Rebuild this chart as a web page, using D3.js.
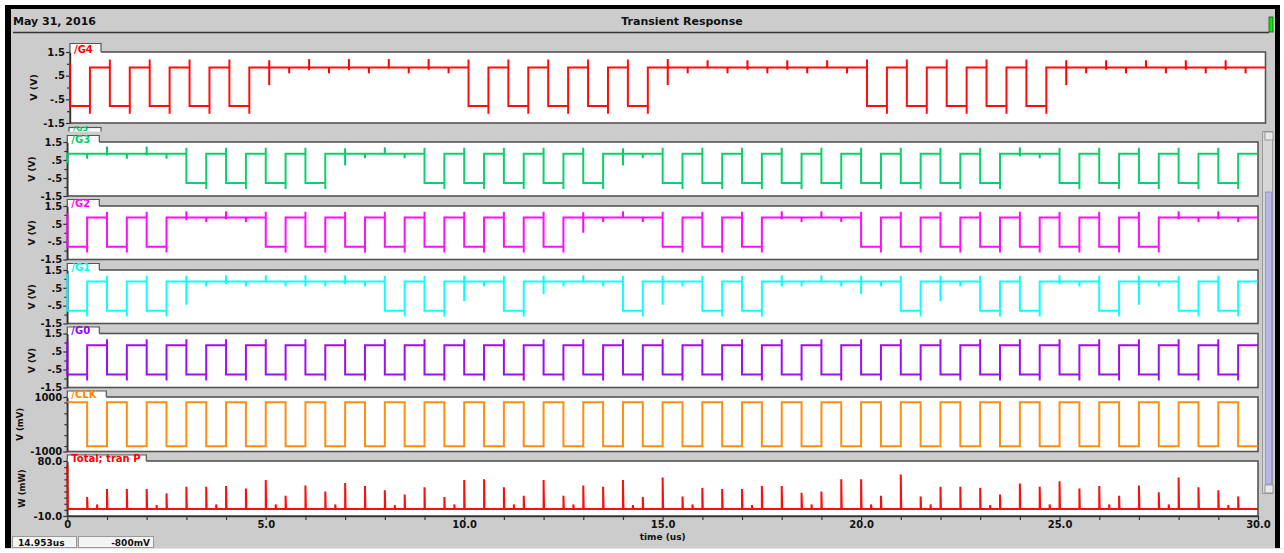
<!DOCTYPE html>
<html><head><meta charset="utf-8">
<script src="https://cdn.jsdelivr.net/npm/d3@7"></script>
<style>
html,body{margin:0;padding:0;background:#fff;}
svg{display:block;}
</style></head><body>
<svg id="c" width="1284" height="553"></svg>
<script>
// ---------------- data ----------------
const dateText = "May 31, 2016";
const titleText = "Transient Response";
const xTitle = "time (us)";
const cursorTime = "14.953us";
const cursorValue = "-800mV";

const timeMajorTicks = [0, 5, 10, 15, 20, 25, 30];
const timeMajorLabels = ["0", "5.0", "10.0", "15.0", "20.0", "25.0", "30.0"];
const timeMinorTicks = [1,2,3,4,6,7,8,9,11,12,13,14,16,17,18,19,21,22,23,24,26,27,28,29];

const vMajorTicks = [1.5, 0.5, -0.5, -1.5];
const vMajorLabels = ["1.5", ".5", "-.5", "-1.5"];
const vMinorTicks = [1.0, 0, -1.0];
const clkMajorTicks = [1000, -1000];
const clkMajorLabels = ["1000", "-1000"];
const clkMinorTicks = [800, 400, 0, -400, -800];
const pwrMajorTicks = [80, -10];
const pwrMajorLabels = ["80.0", "-10.0"];
const pwrMinorTicks = [70, 60, 50, 40, 30, 20, 10, 0];

const levelHigh = 0.85;   // V
const levelLow = -0.78;   // V
const edgeOvershoot = 0.33; // V beyond the level at each switching edge
const lowWidth = 0.5;     // us each low pulse lasts

// start times (us) of each low pulse
const g4Low = [0,1,2,3,4,10,11,12,13,14,20,21,22,23,24];
const g3Low = [3,4,5,6,9,10,11,12,13,15,16,17,18,19,20,21,22,23,25,26,27,28,29];
const g2Low = [0,1,2,5,6,7,8,9,10,11,12,15,16,17,20,21,22,23,24,25,26,27];
const g1Low = [0,1,2,8,9,11,14,16,17,21,23,24,26,28,29];
const g0Low = [0,1,2,3,4,5,6,7,8,9,10,11,12,13,14,15,16,17,18,19,20,21,22,23,24,25,26,27,28,29];
const initialV = {g4: 1.0, g3: 0.3, g2: 1.1, g1: 1.3, g0: 1.1};

// glitches on flat high stretches: [time us, top offset V, bottom offset V]
const g4Glitch = [[5.0,0.3,-0.75],[5.5,0,-0.25],[6.0,0.35,-0.12],[6.5,0,-0.25],[7.0,0.35,-0.12],[7.5,0,-0.25],[8.0,0.35,-0.05],[8.5,0,-0.25],[9.0,0.35,-0.1],[9.5,0,-0.25],
  [15.0,0.35,-0.75],[15.5,0,-0.25],[16.0,0.3,0],[16.5,0,-0.25],[17.0,0.3,-0.1],[17.5,0,-0.25],[18.0,0.3,-0.1],[18.5,0,-0.25],[19.0,0.3,0],[19.5,0,-0.25],
  [25.0,0.3,-0.75],[25.5,0,-0.25],[26.0,0.3,-0.1],[26.5,0,-0.25],[27.0,0.3,0],[27.5,0,-0.25],[28.0,0.3,-0.1],[28.5,0,-0.25],[29.0,0.3,-0.1],[29.5,0,-0.25]];
const g3Glitch = [[0.5,0,-0.28],[1.0,0.4,-0.1],[1.5,0,-0.28],[2.0,0.4,-0.1],[2.5,0,-0.28],
  [7.0,0.3,-0.65],[7.5,0,-0.25],[8.0,0.35,0],[8.5,0,-0.25],
  [14.0,0.3,-0.65],[14.5,0,-0.25],[24.0,0.35,-0.15],[24.5,0,-0.25]];
const g2Glitch = [[3.0,0.35,-0.15],[3.5,0,-0.25],[4.0,0.35,-0.1],[4.5,0,-0.25],
  [13.0,0.3,-0.85],[13.5,0,-0.25],[14.0,0.35,0],[14.5,0,-0.25],
  [18.0,0.35,-0.1],[18.5,0,-0.25],[19.0,0.35,0],[19.5,0,-0.25],
  [28.0,0.35,-0.1],[28.5,0,-0.25],[29.0,0.35,-0.1],[29.5,0,-0.25]];
const g1Glitch = [[3.0,0.33,-1.3],[3.5,0,-0.27],[4.0,0.35,-0.15],[4.5,0,-0.27],[5.0,0.35,0],[5.5,0,-0.27],[6.0,0.35,-0.27],[6.5,0,-0.27],[7.0,0.35,-0.15],[7.5,0,-0.27],
  [10.0,0.33,-1.1],[10.5,0,-0.27],[12.0,0.33,-0.7],[12.5,0,-0.27],[13.0,0.35,0],[13.5,0,-0.27],
  [15.0,0.33,-1.3],[15.5,0,-0.27],[18.0,0.35,-0.27],[18.5,0,-0.27],[19.0,0.35,0],[19.5,0,-0.27],[20.0,0.33,-0.7],[20.5,0,-0.27],
  [22.0,0.33,-1.1],[22.5,0,-0.27],[25.0,0.35,-0.15],[25.5,0,-0.27],[27.0,0.33,-1.3],[27.5,0,-0.27]];
const g0Glitch = [];

// clock: high pulse start times (us), levels in mV
const clkHighStarts = [0,1,2,3,4,5,6,7,8,9,10,11,12,13,14,15,16,17,18,19,20,21,22,23,24,25,26,27,28,29];
const clkHighWidth = 0.5;
const clkHigh = 810, clkLow = -810;

// total power spikes
const pwrBase = 1.5; // mW
const pwrT = [0,0.5,0.75,1.0,1.5,2.0,2.25,2.5,3.0,3.5,3.75,4.0,4.5,5.0,5.25,5.5,6.0,6.5,6.75,7.0,7.5,8.0,8.25,8.5,9.0,9.5,9.75,10.0,10.5,11.0,11.25,11.5,12.0,12.5,12.75,13.0,13.5,14.0,14.25,14.5,15.0,15.5,15.75,16.0,16.5,17.0,17.25,17.5,18.0,18.5,18.75,19.0,19.5,20.0,20.25,20.5,21.0,21.5,21.75,22.0,22.5,23.0,23.25,23.5,24.0,24.5,24.75,25.0,25.5,26.0,26.25,26.5,27.0,27.5,27.75,28.0,28.5,29.0,29.25,29.5];
const pwrP = [73,21,9,34,34,34,8,27,38,38,9,39,35,49,9,23,40,30,9,44,39,32,8,25,37,21,9,49,50,37,9,23,49,23,9,40,38,49,8,21,53,22,9,36,34,34,8,39,39,28,9,30,50,50,9,23,58,22,9,38,38,36,8,25,43,38,9,47,35,39,9,23,40,29,9,53,37,32,8,22];

// ---------------- drawing ----------------
const FONT = "'DejaVu Sans', sans-serif";
const svg = d3.select("#c");
svg.append("rect").attr("width",1284).attr("height",553).attr("fill","#fff");
svg.append("rect").attr("x",5).attr("y",5).attr("width",1275).attr("height",543).attr("fill","#000");
svg.append("rect").attr("x",11).attr("y",9).attr("width",1264).attr("height",539).attr("fill","#cccccc");
svg.append("line").attr("x1",5).attr("x2",1284).attr("y1",548.5).attr("y2",548.5).attr("stroke","#e4e4e4");

// header
svg.append("text").attr("x",13).attr("y",24.5).text(dateText)
  .attr("font-family",FONT).attr("font-weight","bold").attr("font-size",11).attr("fill","#111");
svg.append("text").attr("x",682).attr("y",24.5).attr("text-anchor","middle").text(titleText)
  .attr("font-family",FONT).attr("font-weight","bold").attr("font-size",11).attr("fill","#111");
svg.append("line").attr("x1",13).attr("x2",1269).attr("y1",32.5).attr("y2",32.5).attr("stroke","#333").attr("stroke-width",1.3);
svg.append("rect").attr("x",1269).attr("y",17).attr("width",4).attr("height",15).attr("fill","#00ee00").attr("stroke","#225522").attr("stroke-width",0.8);

// scrollbar of the lower region
svg.append("rect").attr("x",1262.5).attr("y",131.5).attr("width",10).attr("height",362).attr("fill","#d6d6d6").attr("stroke","#9a9a9a");
svg.append("rect").attr("x",1265.5).attr("y",192).attr("width",6).attr("height",292).attr("fill","#b6b6e8").attr("stroke","#9090c0").attr("stroke-width",0.8);
svg.append("rect").attr("x",1265).attr("y",132).attr("width",8).attr("height",8).attr("fill","#e8e8e8").attr("stroke","#888").attr("stroke-width",0.8);
svg.append("rect").attr("x",1265).attr("y",485).attr("width",8).attr("height",8).attr("fill","#e8e8e8").attr("stroke","#888").attr("stroke-width",0.8);

const xTop = d3.scaleLinear().domain([0,30]).range([70,1265.5]);
const xLow = d3.scaleLinear().domain([0,30]).range([67.3,1258]);

function styleAxis(g){
  g.select(".domain").attr("stroke","#333").attr("stroke-width",1.4);
  g.selectAll(".tick line").attr("stroke","#333").attr("stroke-width",1.2);
  g.selectAll(".tick text").attr("font-family",FONT).attr("font-weight","bold").attr("font-size",10).attr("fill","#111");
}

function drawPanel(p){
  const g = svg.append("g");
  const y = d3.scaleLinear().domain(p.domain).range([p.bot,p.top]);
  const x = p.x;
  const x0 = x.range()[0], x1 = x.range()[1];
  g.append("rect").attr("x",x0).attr("y",p.top).attr("width",x1-x0).attr("height",p.bot-p.top)
    .attr("fill","#fff").attr("stroke","#555").attr("stroke-width",1.6);
  g.append("rect").attr("x",x0).attr("y",p.top-p.tabH).attr("width",p.tabW).attr("height",p.tabH+1.5).attr("fill","#fff");
  g.append("path").attr("d",`M${x0},${p.top} V${p.top-p.tabH} H${x0+p.tabW} V${p.top}`)
    .attr("fill","none").attr("stroke","#555").attr("stroke-width",1.2);
  const lbl = new Map(p.majors.map((d,i)=>[d,p.majorLabels[i]]));
  const ga = g.append("g").attr("transform",`translate(${x0},0)`)
    .call(d3.axisLeft(y).tickValues(p.majors).tickFormat(d=>lbl.get(d)).tickSize(4).tickPadding(1).tickSizeOuter(0));
  styleAxis(ga);
  const gm = g.append("g").attr("transform",`translate(${x0},0)`)
    .call(d3.axisLeft(y).tickValues(p.minors).tickFormat("").tickSize(3).tickSizeOuter(0));
  styleAxis(gm); gm.select(".domain").remove();
  g.append("text").attr("transform",`translate(${p.titleX},${(p.top+p.bot)/2}) rotate(-90)`)
    .attr("text-anchor","middle").text(p.yTitle)
    .attr("font-family",FONT).attr("font-weight","bold").attr("font-size",p.titleSize).attr("fill","#111");
  const line = d3.line().x(d=>x(d[0])).y(d=>y(d[1]));
  g.append("path").attr("d",line(p.points)).attr("fill","none").attr("stroke",p.color)
    .attr("stroke-width",2).attr("stroke-linejoin","miter").attr("stroke-opacity",0.95);
  if (p.glitch){
    g.selectAll(null).data(p.glitch).enter().append("line")
      .attr("x1",d=>x(d[0])).attr("x2",d=>x(d[0]))
      .attr("y1",d=>y(levelHigh+d[1])).attr("y2",d=>y(levelHigh+d[2]))
      .attr("stroke",p.color).attr("stroke-width",2);
  }
  g.append("text").attr("x",x0+4).attr("y",p.top+0.8).text(p.name)
    .attr("font-family",FONT).attr("font-weight","bold").attr("font-size",10).attr("fill",p.color);
  return {g,y};
}

function digitalPoints(lows, init){
  const edges = [];
  lows.forEach(s=>{ if (s>0) edges.push([s,"f"]); if (s+lowWidth<30) edges.push([s+lowWidth,"r"]); });
  edges.sort((a,b)=>a[0]-b[0]);
  const startLow = lows.includes(0);
  let level = startLow ? levelLow : levelHigh;
  const pts = [[0,init],[0,level]];
  edges.forEach(([t,k])=>{
    if (k==="f"){ pts.push([t,levelHigh],[t,levelHigh+edgeOvershoot],[t,levelLow]); level=levelLow; }
    else { pts.push([t,levelLow],[t,levelLow-edgeOvershoot],[t,levelHigh]); level=levelHigh; }
  });
  pts.push([30,level]);
  return pts;
}

function clkPoints(){
  const pts = [[0,clkHigh]];
  clkHighStarts.forEach(s=>{
    if (s>0) pts.push([s,clkLow],[s,clkHigh]);
    pts.push([s+clkHighWidth,clkHigh],[s+clkHighWidth,clkLow]);
  });
  pts.push([30,clkLow]);
  return pts;
}

function pwrPoints(){
  const pts = [];
  pwrT.forEach((t,i)=>{
    if (i>0) pts.push([t,pwrBase]);
    pts.push([t,pwrP[i]],[t+0.012,pwrBase]);
  });
  pts.push([30,pwrBase]);
  return pts;
}

// ghost tab of the scrolled region (clipped at the viewport top)
const defs = svg.append("defs");
defs.append("clipPath").attr("id","ghost").append("rect").attr("x",60).attr("y",126).attr("width",60).attr("height",5.5);
const gg = svg.append("g").attr("clip-path","url(#ghost)");
gg.append("rect").attr("x",69).attr("y",127.5).attr("width",32).attr("height",10).attr("fill","#fff").attr("stroke","#555").attr("stroke-width",1.2);
gg.append("text").attr("x",73).attr("y",131).text("/G3").attr("font-family",FONT).attr("font-weight","bold").attr("font-size",8).attr("fill","#00cc66");

const common = {domain:[-1.5,1.5], majors:vMajorTicks, majorLabels:vMajorLabels, minors:vMinorTicks, yTitle:"V (V)"};
drawPanel(Object.assign({}, common, {name:"/G4", color:"#ff0000", x:xTop, top:52, bot:123, tabW:31, tabH:8.5, titleX:37, titleSize:9.5,
  points:digitalPoints(g4Low, initialV.g4), glitch:g4Glitch}));
const lowTops = [142, 206, 270, 333.5];
const lowBots = [196, 259.5, 323.5, 387.5];
const lowDefs = [["/G3","#00cc66",g3Low,initialV.g3,g3Glitch],["/G2","#ff00ff",g2Low,initialV.g2,g2Glitch],
                 ["/G1","#00ffff",g1Low,initialV.g1,g1Glitch],["/G0","#9a00f0",g0Low,initialV.g0,g0Glitch]];
lowDefs.forEach((d,i)=>{
  drawPanel(Object.assign({}, common, {name:d[0], color:d[1], x:xLow, top:lowTops[i], bot:lowBots[i], tabW:32, tabH:6.5, titleX:35, titleSize:9,
    points:digitalPoints(d[2], d[3]), glitch:d[4]}));
});
drawPanel({name:"/CLK", color:"#ff8800", x:xLow, top:397, bot:451.5, tabW:39, tabH:6, titleX:23, titleSize:8.5,
  domain:[-1000,1000], majors:clkMajorTicks, majorLabels:clkMajorLabels, minors:clkMinorTicks, yTitle:"V (mV)", points:clkPoints()});
drawPanel({name:"Total; tran P", color:"#ff0000", x:xLow, top:461, bot:516, tabW:79, tabH:6, titleX:25, titleSize:8.5,
  domain:[-10,80], majors:pwrMajorTicks, majorLabels:pwrMajorLabels, minors:pwrMinorTicks, yTitle:"W (mW)", points:pwrPoints()});

// time axis
const lblT = new Map(timeMajorTicks.map((d,i)=>[d,timeMajorLabels[i]]));
const gx = svg.append("g").attr("transform","translate(0,516)")
  .call(d3.axisBottom(xLow).tickValues(timeMajorTicks).tickFormat(d=>lblT.get(d)).tickSize(4).tickPadding(1).tickSizeOuter(0));
styleAxis(gx);
const gxm = svg.append("g").attr("transform","translate(0,516)")
  .call(d3.axisBottom(xLow).tickValues(timeMinorTicks).tickFormat("").tickSize(4).tickSizeOuter(0));
styleAxis(gxm); gxm.select(".domain").remove();
svg.append("text").attr("x",xLow(15)).attr("y",539.5).attr("text-anchor","middle").text(xTitle)
  .attr("font-family",FONT).attr("font-weight","bold").attr("font-size",9).attr("fill","#111");

// status boxes
svg.append("rect").attr("x",12.5).attr("y",536.5).attr("width",64).attr("height",11).attr("fill","#f4f4f4").attr("stroke","#999");
svg.append("rect").attr("x",78.5).attr("y",536.5).attr("width",75).attr("height",11).attr("fill","#f4f4f4").attr("stroke","#999");
svg.append("text").attr("x",18).attr("y",545.5).text(cursorTime).attr("font-family",FONT).attr("font-weight","bold").attr("font-size",9).attr("fill","#111");
svg.append("text").attr("x",150).attr("y",545.5).attr("text-anchor","end").text(cursorValue).attr("font-family",FONT).attr("font-weight","bold").attr("font-size",9).attr("fill","#111");
</script>
</body></html>
